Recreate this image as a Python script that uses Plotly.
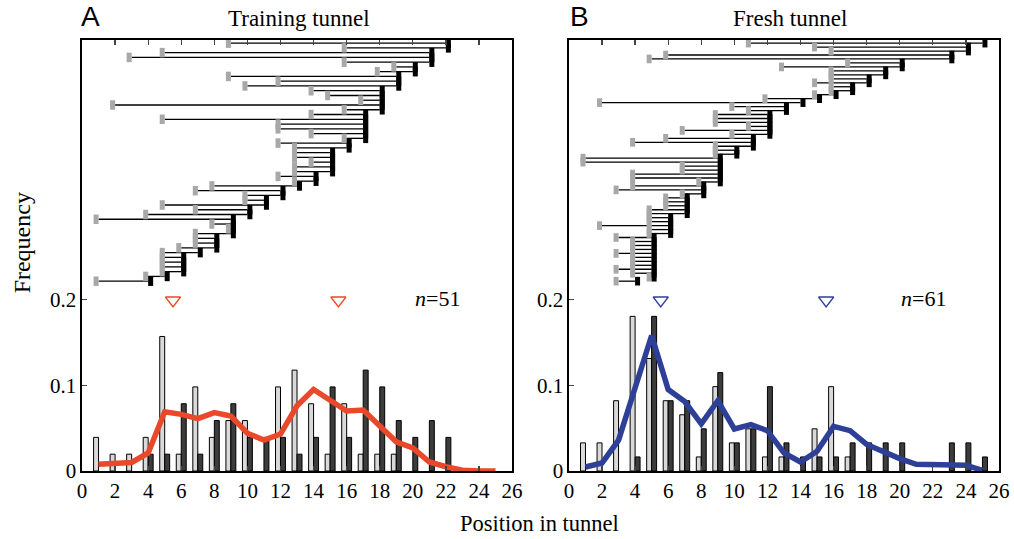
import plotly.graph_objects as go

# ---------------- data ----------------
positions = list(range(1, 26))

# Panel A (training tunnel): one row per animal, top to bottom
a_start = [9, 16, 5, 3, 16, 19, 18, 9, 12, 10, 14, 15, 17, 2, 16, 14, 5, 12, 12, 14,
           16, 12, 13, 13, 13, 14, 13, 13, 12, 13, 8, 7, 10, 10, 5, 7, 4, 1, 8, 9,
           7, 7, 7, 6, 5, 5, 5, 5, 5, 4, 1]
a_end = [22, 22, 21, 21, 21, 20, 20, 19, 19, 19, 18, 18, 18, 18, 18, 17, 17, 17, 17, 17,
         17, 16, 16, 15, 15, 15, 15, 15, 14, 14, 13, 12, 12, 11, 11, 10, 10, 9, 9, 9,
         9, 8, 8, 8, 7, 6, 6, 6, 6, 5, 4]
a_smooth = [0.008, 0.009, 0.010, 0.021, 0.069, 0.066, 0.061, 0.068, 0.064, 0.044,
            0.036, 0.043, 0.076, 0.095, 0.083, 0.070, 0.071, 0.052, 0.034, 0.027,
            0.0105, 0.005, 0.001, 0.0, 0.0]
a_marks = [5.5, 15.5]

# Panel B (fresh tunnel)
b_start = [11, 15, 16, 6, 5, 17, 13, 16, 16, 16, 15, 16, 16, 15, 12, 2, 10, 11, 9, 9,
           9, 11, 7, 10, 6, 4, 9, 9, 9, 1, 1, 7, 7, 4, 4, 8, 4, 3, 7, 6,
           6, 6, 5, 5, 5, 5, 2, 5, 5, 3, 4, 4, 4, 3, 4, 4, 4, 3, 4, 5, 3]
b_end = [25, 24, 24, 23, 23, 20, 20, 19, 19, 18, 18, 17, 17, 16, 15, 14, 13, 13, 12, 12,
         12, 12, 12, 12, 11, 11, 11, 10, 10, 9, 9, 9, 9, 9, 9, 9, 8, 8, 8, 7,
         7, 7, 7, 7, 6, 6, 6, 6, 6, 5, 5, 5, 5, 5, 5, 5, 5, 5, 5, 5, 4]
b_smooth = [0.0047, 0.0093, 0.036, 0.096, 0.158, 0.095, 0.081, 0.055, 0.082, 0.049,
            0.054, 0.047, 0.021, 0.0105, 0.023, 0.052, 0.047, 0.031, 0.022, 0.0144,
            0.0078, 0.0078, 0.0078, 0.0066, 0.0008]
b_marks = [5.55, 15.55]

x_ticks = list(range(0, 27, 2))
y_ticks = [0, 0.1, 0.2]
y_ticklabels = ["0", "0.1", "0.2"]

# ---------------- style ----------------
SERIF = "Liberation Serif, Times New Roman, serif"
SANS = "Liberation Sans, Arial, sans-serif"
RED = "#e9492a"
BLUE = "#2e3f97"
LIGHT = "#d9d9d9"
DARK = "#3c3c3c"
GRAYMK = "#a8a8a8"

W, H = 1014, 539
PX_L, PX_R, PX_T, PX_B = 81.8, 999.3, 40.0, 470.7   # plot area in page px
M_L, M_T = PX_L, PX_T
M_R, M_B = W - PX_R, H - PX_B
PLOT_W, PLOT_H = PX_R - PX_L, PX_B - PX_T
ROW_BASE_PX = PX_B - 281.0   # bottom row height above the axis

fig = go.Figure()


def freq(vals, n):
    return {k: vals.count(k) / n for k in positions if vals.count(k) > 0}


def add_panel(xa, ya, yr, starts, ends, smooth, marks, color, mk_size):
    n = len(starts)
    fs = freq(starts, n)
    fe = freq(ends, n)
    fig.add_trace(go.Bar(x=list(fs.keys()), y=list(fs.values()), width=0.3, offset=-0.3,
                         marker=dict(color=LIGHT, line=dict(color="black", width=1)),
                         xaxis=xa, yaxis=ya, hoverinfo="skip"))
    fig.add_trace(go.Bar(x=list(fe.keys()), y=list(fe.values()), width=0.3, offset=0,
                         marker=dict(color=DARK, line=dict(color="black", width=1)),
                         xaxis=xa, yaxis=ya, hoverinfo="skip"))
    fig.add_trace(go.Scatter(x=positions, y=smooth, mode="lines",
                             line=dict(color=color, width=5.5),
                             xaxis=xa, yaxis=ya, hoverinfo="skip"))
    fig.add_trace(go.Scatter(x=marks, y=[0.199] * len(marks), mode="markers",
                             marker=dict(symbol="triangle-down-open", size=13,
                                         color=color, line=dict(color=color, width=1.5)),
                             xaxis=xa, yaxis=ya, hoverinfo="skip"))
    rows = [n - 1 - i for i in range(n)]
    lx, ly = [], []
    for s, e, r in zip(starts, ends, rows):
        lx += [s, e, None]
        ly += [r, r, None]
    fig.add_trace(go.Scatter(x=lx, y=ly, mode="lines", line=dict(color="black", width=1.3),
                             xaxis=xa, yaxis=yr, hoverinfo="skip"))
    fig.add_trace(go.Scatter(x=[s - 0.15 for s in starts], y=rows, mode="markers",
                             marker=dict(symbol="line-ns-open", size=mk_size, color=GRAYMK,
                                         line=dict(color=GRAYMK, width=5)),
                             xaxis=xa, yaxis=yr, hoverinfo="skip"))
    fig.add_trace(go.Scatter(x=[e + 0.15 for e in ends], y=rows, mode="markers",
                             marker=dict(symbol="line-ns-open", size=mk_size, color="black",
                                         line=dict(color="black", width=5)),
                             xaxis=xa, yaxis=yr, hoverinfo="skip"))


add_panel("x", "y", "y3", a_start, a_end, a_smooth, a_marks, RED, 6.8)
add_panel("x2", "y2", "y4", b_start, b_end, b_smooth, b_marks, BLUE, 6.2)

dom_a = [0, 430.3 / PLOT_W]
dom_b = [(569 - PX_L) / PLOT_W, 1]

xax = dict(range=[0, 26], tickvals=x_ticks, ticks="inside", ticklen=5, tickwidth=1.2,
           showline=True, linecolor="black", linewidth=1.6, mirror="ticks",
           showgrid=False, zeroline=False, automargin=False,
           tickfont=dict(family=SERIF, size=21, color="black"))
yax = dict(range=[0, PLOT_H / 857.0], tickvals=y_ticks, ticktext=y_ticklabels,
           ticks="inside", ticklen=5, tickwidth=1.2, showline=True, linecolor="black",
           linewidth=1.6, mirror=True, showgrid=False, zeroline=False, automargin=False,
           tickfont=dict(family=SERIF, size=21, color="black"))


def row_range(n_rows):
    sp = 237.9 / (n_rows - 1)
    lo = -ROW_BASE_PX / sp
    return [lo, lo + PLOT_H / sp]


fig.update_layout(
    template="none",
    width=W, height=H, margin=dict(l=M_L, r=M_R, t=M_T, b=M_B, autoexpand=False),
    paper_bgcolor="white", plot_bgcolor="white", showlegend=False,
    barmode="overlay", bargap=0, hovermode=False,
    xaxis=dict(domain=dom_a, anchor="y", **xax),
    xaxis2=dict(domain=dom_b, anchor="y2", **xax),
    yaxis=dict(domain=[0, 1], anchor="x", **yax),
    yaxis2=dict(domain=[0, 1], anchor="x2", **yax),
    yaxis3=dict(overlaying="y", anchor="x", range=row_range(len(a_start)), visible=False,
                automargin=False),
    yaxis4=dict(overlaying="y2", anchor="x2", range=row_range(len(b_start)), visible=False,
                automargin=False),
)

ann = [
    dict(text="A", x=90, y=17, font=dict(family=SANS, size=28)),
    dict(text="B", x=580, y=17, font=dict(family=SANS, size=28)),
    dict(text="Training tunnel", x=299, y=19, font=dict(family=SERIF, size=23)),
    dict(text="Fresh tunnel", x=790, y=19, font=dict(family=SERIF, size=23)),
    dict(text="Position in tunnel", x=540, y=523, font=dict(family=SERIF, size=22.5)),
    dict(text="<i>n</i>=51", x=437, y=298, font=dict(family=SERIF, size=22)),
    dict(text="<i>n</i>=61", x=924, y=298, font=dict(family=SERIF, size=22)),
]
for a in ann:
    fig.add_annotation(text=a["text"], x=(a["x"] - PX_L) / PLOT_W,
                       y=1 - (a["y"] - PX_T) / PLOT_H, xref="paper", yref="paper",
                       xanchor="center", yanchor="middle", showarrow=False,
                       font=dict(color="black", **a["font"]))
fig.add_annotation(text="Frequency", x=(22 - PX_L) / PLOT_W, y=1 - (243 - PX_T) / PLOT_H,
                   xref="paper", yref="paper", xanchor="center", yanchor="middle",
                   showarrow=False, textangle=-90,
                   font=dict(family=SERIF, size=24, color="black"))

# remove the default page margin so the figure sits at the window's top-left corner
fig.write_html("out.html", config={"displayModeBar": False, "staticPlot": True},
               post_script="document.body.style.margin='0';document.body.style.overflow='hidden';")
